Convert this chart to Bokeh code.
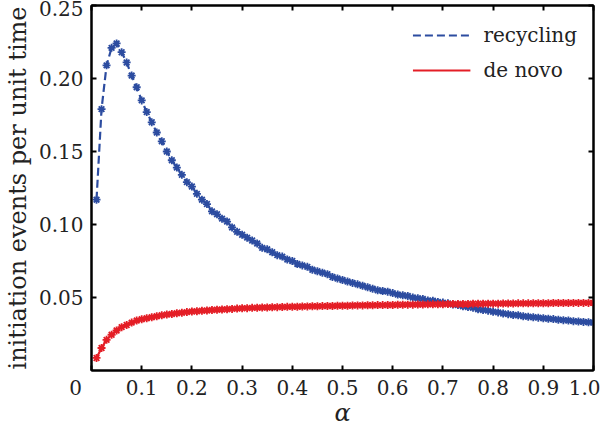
from bokeh.plotting import figure
from bokeh.models import LinearAxis, Range1d, Legend, LegendItem, FixedTicker
from bokeh.embed import file_html
from bokeh.resources import INLINE

alpha = [round(0.01 * i, 2) for i in range(1, 101)]

recycling = [
    0.117, 0.179, 0.209, 0.221, 0.224, 0.218, 0.211, 0.202, 0.194, 0.185,
    0.177, 0.170, 0.163, 0.157, 0.150, 0.144, 0.139, 0.134, 0.129, 0.126,
    0.121, 0.117, 0.114, 0.109, 0.107, 0.104, 0.102, 0.098, 0.095, 0.093,
    0.091, 0.089, 0.087, 0.084, 0.083, 0.081, 0.079, 0.078, 0.076, 0.075,
    0.073, 0.072, 0.071, 0.069, 0.068, 0.067, 0.066, 0.064, 0.063, 0.062,
    0.061, 0.060, 0.059, 0.058, 0.057, 0.056, 0.055, 0.0545, 0.054, 0.053,
    0.052, 0.0515, 0.051, 0.050, 0.0495, 0.049, 0.048, 0.0478, 0.047, 0.0465,
    0.046, 0.0452, 0.0448, 0.044, 0.0435, 0.043, 0.042, 0.0414, 0.041, 0.0402,
    0.0398, 0.039, 0.0386, 0.038, 0.0378, 0.0372, 0.0368, 0.0365, 0.0362, 0.0358,
    0.0355, 0.0352, 0.0348, 0.0345, 0.0342, 0.0338, 0.0336, 0.0333, 0.033, 0.0328,
]

de_novo = [
    0.0086, 0.0154, 0.0210, 0.0245, 0.0274, 0.0297, 0.0312, 0.0328, 0.0342, 0.0351,
    0.0358, 0.0365, 0.0372, 0.0378, 0.0383, 0.0387, 0.0392, 0.0396, 0.0400, 0.0404,
    0.0406, 0.0409, 0.0411, 0.0414, 0.0416, 0.0418, 0.0420, 0.0422, 0.0424, 0.0426,
    0.0427, 0.0429, 0.0430, 0.0431, 0.0432, 0.0433, 0.0434, 0.0435, 0.0436, 0.0437,
    0.0437, 0.0438, 0.0439, 0.0440, 0.0440, 0.0441, 0.0442, 0.0442, 0.0443, 0.0444,
    0.0444, 0.0445, 0.0446, 0.0446, 0.0447, 0.0447, 0.0448, 0.0448, 0.0449, 0.0449,
    0.0450, 0.0450, 0.0451, 0.0451, 0.0452, 0.0452, 0.0453, 0.0453, 0.0454, 0.0454,
    0.0455, 0.0455, 0.0455, 0.0456, 0.0456, 0.0457, 0.0457, 0.0457, 0.0458, 0.0458,
    0.0458, 0.0459, 0.0459, 0.0459, 0.0460, 0.0460, 0.0460, 0.0461, 0.0461, 0.0461,
    0.0461, 0.0462, 0.0462, 0.0462, 0.0462, 0.0463, 0.0463, 0.0463, 0.0463, 0.0463,
]

x_ticks = [0.0, 0.1, 0.2, 0.3, 0.4, 0.5, 0.6, 0.7, 0.8, 0.9, 1.0]
x_tick_labels = ["0" + "\u00a0" * 5, "0.1", "0.2", "0.3", "0.4", "0.5", "0.6", "0.7", "0.8", "0.9", "1.0"]
y_ticks = [0.05, 0.10, 0.15, 0.20, 0.25]
y_tick_labels = ["0.05", "0.10", "0.15", "0.20", "0.25"]

BLUE = "#2c4ca0"
RED = "#e41e26"
FONT = "DejaVu Serif"
TXT = "#222222"

p = figure(width=600, height=429, output_backend="svg", toolbar_location=None,
           x_range=Range1d(0, 1.0), y_range=Range1d(0, 0.25),
           min_border_left=84, min_border_right=7, min_border_top=5, min_border_bottom=56)
p.grid.visible = False
p.outline_line_color = "black"
p.outline_line_width = 2

for ax in (p.xaxis[0], p.yaxis[0]):
    ax.axis_line_width = 2
    ax.major_tick_line_width = 2
    ax.major_tick_in = 5
    ax.major_tick_out = 0
    ax.minor_tick_line_color = None
    ax.major_label_text_font = FONT
    ax.major_label_text_font_size = "20px"
    ax.major_label_text_color = TXT
    ax.axis_label_text_font = FONT
    ax.axis_label_text_color = TXT

p.xaxis[0].ticker = FixedTicker(ticks=x_ticks)
p.xaxis[0].major_label_overrides = {t: l for t, l in zip(x_ticks, x_tick_labels)}
p.yaxis[0].ticker = FixedTicker(ticks=y_ticks)
p.yaxis[0].major_label_overrides = {t: l for t, l in zip(y_ticks, y_tick_labels)}
p.xaxis[0].major_label_standoff = 5
p.yaxis[0].major_label_standoff = 8
p.xaxis[0].axis_label = "α"
p.xaxis[0].axis_label_text_font_style = "italic"
p.xaxis[0].axis_label_text_font_size = "24px"
p.xaxis[0].axis_label_standoff = -4
p.yaxis[0].axis_label = "initiation events per unit time"
p.yaxis[0].axis_label_text_font_style = "normal"
p.yaxis[0].axis_label_text_font_size = "24px"
p.yaxis[0].axis_label_standoff = 4

top = LinearAxis(ticker=FixedTicker(ticks=x_ticks),
                 major_label_overrides={t: "" for t in x_ticks},
                 major_tick_in=5, major_tick_out=0, major_tick_line_width=2,
                 axis_line_width=2, minor_tick_line_color=None, major_label_standoff=0)
right = LinearAxis(ticker=FixedTicker(ticks=y_ticks),
                   major_label_overrides={t: "" for t in y_ticks},
                   major_tick_in=5, major_tick_out=0, major_tick_line_width=2,
                   axis_line_width=2, minor_tick_line_color=None, major_label_standoff=0)
p.add_layout(top, "above")
p.add_layout(right, "right")

r_blue = p.line(alpha, recycling, line_color=BLUE, line_width=2.2, line_dash="8 4")
p.scatter(alpha, recycling, marker="asterisk", size=8, line_color=BLUE, line_width=1.8)
r_red = p.line(alpha, de_novo, line_color=RED, line_width=2.2)
p.scatter(alpha, de_novo, marker="asterisk", size=8, line_color=RED, line_width=1.8)

legend = Legend(items=[LegendItem(label="recycling", renderers=[r_blue]),
                       LegendItem(label="de novo", renderers=[r_red])],
                location="top_right", margin=16, padding=6, spacing=7,
                glyph_width=58, glyph_height=28, label_height=28, label_width=92,
                label_standoff=13, border_line_color=None, background_fill_alpha=0,
                label_text_font=FONT, label_text_font_size="20px", label_text_color=TXT)
p.add_layout(legend)

open("out.html", "w").write(file_html(p, INLINE))
